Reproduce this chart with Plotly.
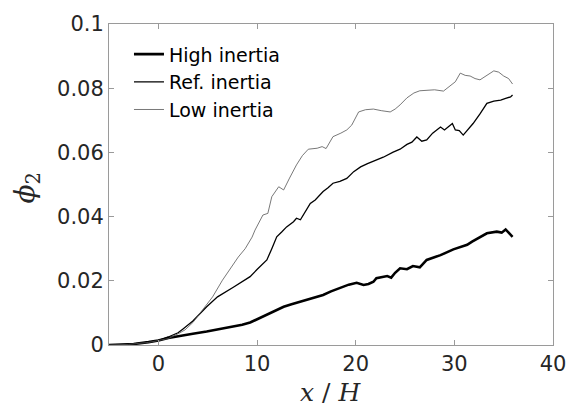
import plotly.graph_objects as go

low_x = [-5, -3, -1, 0, 1, 2, 2.7, 3.5, 4.7, 5.5, 6.5, 7.3, 8.1, 8.8, 9.5, 9.8, 10.6, 11.1, 11.5, 12.2, 12.7, 13.3,
         14.0, 14.6, 15.2, 16.1, 16.6, 17.0, 17.7, 18.5, 19.1, 19.6, 20.3, 21.0, 21.8, 22.6, 23.5, 24.0, 24.5, 25.2,
         25.9, 26.5, 27.2, 28.0, 28.9, 29.6, 30.1, 30.6, 31.1, 31.6, 32.1, 32.6, 33.3, 34.0, 34.5, 35.0, 35.5, 35.9]
low_y = [0, 0.0002, 0.0008, 0.0013, 0.002, 0.0035, 0.0047, 0.007, 0.0118, 0.015, 0.0202, 0.024, 0.0274, 0.030, 0.0336,
         0.0358, 0.0405, 0.0410, 0.0462, 0.0493, 0.0483, 0.052, 0.0561, 0.059, 0.061, 0.0613, 0.0618, 0.0612, 0.0649,
         0.066, 0.067, 0.0685, 0.0726, 0.0733, 0.0735, 0.073, 0.0726, 0.0735, 0.0748, 0.077, 0.0785, 0.0792, 0.0794,
         0.0795, 0.0791, 0.0807, 0.082, 0.0847, 0.084, 0.0838, 0.083, 0.0826, 0.084, 0.0854, 0.085, 0.0838, 0.083, 0.0813]

ref_x = [-5, -3, -1, 0, 1, 2, 2.5, 3.5, 4.9, 6, 7.6, 8.5, 9.3, 10.0, 10.6, 11.0, 11.5, 12.0, 12.5, 13.0, 13.7, 14.0,
         14.4, 15.0, 15.4, 15.9, 16.7, 17.2, 17.7, 18.4, 19.1, 19.8, 20.5, 21.2, 22.0, 22.8, 23.8, 24.5, 25.2, 25.7,
         26.2, 26.7, 27.2, 27.8, 28.6, 29.0, 29.4, 29.8, 30.1, 30.5, 30.9, 31.4, 31.9, 32.6, 33.3, 34.0, 34.7, 35.2,
         35.7, 35.9]
ref_y = [0, 0.0002, 0.0009, 0.0014, 0.0025, 0.0038, 0.005, 0.0075, 0.0119, 0.015, 0.018, 0.0198, 0.0213, 0.0235,
         0.0254, 0.0265, 0.030, 0.0337, 0.0352, 0.0368, 0.0384, 0.0395, 0.039, 0.042, 0.0441, 0.0452, 0.0478, 0.049,
         0.0504, 0.051, 0.0519, 0.054, 0.0555, 0.0565, 0.0575, 0.0585, 0.0601, 0.061, 0.0625, 0.0632, 0.0648, 0.0635,
         0.0639, 0.066, 0.0679, 0.067, 0.068, 0.069, 0.067, 0.0668, 0.0654, 0.0672, 0.069, 0.072, 0.0753, 0.076,
         0.0763, 0.0768, 0.0773, 0.0779]

high_x = [-5, -4, -2.5, -1, 0, 1, 2.5, 3.5, 4.9, 6, 7.6, 8.5, 9.3, 10.0, 11, 12, 12.7, 13.5, 14.4, 15.2, 16, 16.7,
          17.5, 18.7, 19.3, 20.1, 20.8, 21.3, 21.8, 22.1, 23.2, 23.6, 24.0, 24.5, 25.2, 25.8, 26.5, 27.2, 28.6, 29.9,
          31.3, 31.8, 32.6, 33.3, 34.3, 34.8, 35.2, 35.9]
high_y = [0, 0.0001, 0.0003, 0.0009, 0.0014, 0.0022, 0.0031, 0.0035, 0.0042, 0.0048, 0.0057, 0.0063, 0.007, 0.008,
          0.0093, 0.0109, 0.0119, 0.0127, 0.0135, 0.0142, 0.015, 0.0156, 0.0167, 0.018, 0.0188, 0.0194, 0.0187, 0.019,
          0.0197, 0.0208, 0.0215, 0.021, 0.0225, 0.0239, 0.0236, 0.0246, 0.0242, 0.0265, 0.028, 0.0298, 0.0312,
          0.0322, 0.0337, 0.0348, 0.0353, 0.035, 0.036, 0.0337]

x_ticks = [0, 10, 20, 30, 40]
y_ticks = [0, 0.02, 0.04, 0.06, 0.08, 0.1]
y_tick_labels = ["0", "0.02", "0.04", "0.06", "0.08", "0.1"]

fig = go.Figure()
fig.add_trace(go.Scatter(x=high_x, y=high_y, mode="lines", name="High inertia",
                         line=dict(color="black", width=2.6)))
fig.add_trace(go.Scatter(x=ref_x, y=ref_y, mode="lines", name="Ref. inertia",
                         line=dict(color="black", width=1.3)))
fig.add_trace(go.Scatter(x=low_x, y=low_y, mode="lines", name="Low inertia",
                         line=dict(color="#555555", width=0.8)))

axis_common = dict(showgrid=False, zeroline=False, showline=True, linecolor="#9a9a9a", linewidth=1,
                   mirror="ticks", ticks="inside", ticklen=5, tickcolor="#9a9a9a", automargin=False,
                   tickfont=dict(family="DejaVu Sans", size=21, color="#262626"))

fig.update_layout(
    width=568, height=407,
    margin=dict(l=109, r=15, t=24, b=62),
    paper_bgcolor="white", plot_bgcolor="white",
    font=dict(family="DejaVu Sans", color="#262626"),
    xaxis=dict(range=[-5, 40], tickvals=x_ticks, **axis_common),
    yaxis=dict(range=[0, 0.1], tickvals=y_ticks, ticktext=y_tick_labels, **axis_common),
    legend=dict(x=0.045, y=0.965, xanchor="left", yanchor="top", bgcolor="rgba(0,0,0,0)",
                font=dict(family="DejaVu Sans", size=19, color="black"), itemwidth=30,
                tracegroupgap=0),
    showlegend=True,
    annotations=[
        dict(text="<i>x</i> / <i>H</i>", xref="paper", yref="paper", x=0.498, y=-0.148,
             xanchor="center", yanchor="middle", showarrow=False,
             font=dict(family="DejaVu Serif", size=25, color="#262626")),
        dict(text="<i>ϕ</i><sub>2</sub>", xref="paper", yref="paper", x=-0.185, y=0.49,
             xanchor="center", yanchor="middle", showarrow=False, textangle=-90,
             font=dict(family="DejaVu Serif", size=28, color="#262626")),
    ],
)

fig.write_html("out.html", config={"displayModeBar": False},
               post_script="document.body.style.margin='0';document.body.style.overflow='hidden';")
